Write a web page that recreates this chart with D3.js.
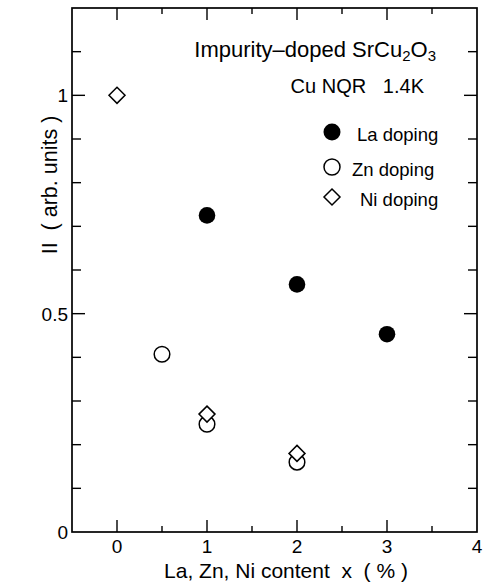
<!DOCTYPE html>
<html>
<head>
<meta charset="utf-8">
<script src="https://cdn.jsdelivr.net/npm/d3@7"></script>
<style>
  body { margin: 0; background: #fff; }
  text { font-family: "Liberation Sans", Arial, sans-serif; fill: #000; }
</style>
</head>
<body>
<div id="viz"></div>
<script>
const width = 484;
const height = 585;
const margin = {top: 8, right: 7, bottom: 53, left: 72};

// data
const laX = [1, 2, 3];
const laY = [0.725, 0.567, 0.453];
const znX = [0.5, 1, 2];
const znY = [0.407, 0.247, 0.160];
const niX = [0, 1, 2];
const niY = [1.0, 0.27, 0.18];

const xMajor = [0, 1, 2, 3, 4];
const xMinor = [-0.5, 0.5, 1.5, 2.5, 3.5];
const yMajor = [0, 0.5, 1];
const yMinor = [0.1, 0.2, 0.3, 0.4, 0.6, 0.7, 0.8, 0.9, 1.1];

const svg = d3.select('#viz')
  .append('svg')
    .attr('width', width)
    .attr('height', height);

const x = d3.scaleLinear()
  .domain([-0.5, 4])
  .range([margin.left, width - margin.right]);

const y = d3.scaleLinear()
  .domain([0, 1.2])
  .range([height - margin.bottom, margin.top]);

const x0 = x.range()[0], x1 = x.range()[1];
const y0 = y.range()[0], y1 = y.range()[1];

// frame
svg.append('rect')
  .attr('x', x0).attr('y', y1)
  .attr('width', x1 - x0).attr('height', y0 - y1)
  .attr('fill', 'none')
  .attr('stroke', '#000')
  .attr('stroke-width', 1.7);

// ticks, all pointing inward
const ticks = svg.append('g').attr('stroke', '#000').attr('stroke-width', 1.4);
xMajor.concat(xMinor).forEach(v => {
  if (v <= -0.5 || v >= 4) return;
  const len = xMajor.includes(v) ? 12 : 6;
  ticks.append('line').attr('x1', x(v)).attr('x2', x(v)).attr('y1', y0).attr('y2', y0 - len);
  ticks.append('line').attr('x1', x(v)).attr('x2', x(v)).attr('y1', y1).attr('y2', y1 + len);
});
yMajor.concat(yMinor).forEach(v => {
  if (v <= 0) return;
  const len = yMajor.includes(v) ? 13 : 9;
  ticks.append('line').attr('x1', x0).attr('x2', x0 + len).attr('y1', y(v)).attr('y2', y(v));
  ticks.append('line').attr('x1', x1).attr('x2', x1 - len).attr('y1', y(v)).attr('y2', y(v));
});

// tick labels
svg.append('g').selectAll('text').data(xMajor).join('text')
  .attr('x', d => x(d))
  .attr('y', y0 + 21)
  .attr('text-anchor', 'middle')
  .attr('font-size', 19)
  .text(d => d);

svg.append('g').selectAll('text').data(yMajor).join('text')
  .attr('x', x0 - 4)
  .attr('y', d => y(d) + 7)
  .attr('text-anchor', 'end')
  .attr('font-size', 19)
  .text(d => d);

// axis titles
svg.append('text')
  .attr('x', 286)
  .attr('y', 578)
  .attr('text-anchor', 'middle')
  .attr('font-size', 21)
  .attr('xml:space', 'preserve')
  .text('La, Zn, Ni content  x  ( % )');

svg.append('text')
  .attr('transform', 'translate(57,185) rotate(-90)')
  .attr('text-anchor', 'middle')
  .attr('font-size', 21.5)
  .attr('xml:space', 'preserve')
  .text('II  ( arb. units )');

// markers
const diamond = (cx, cy, r) => `M${cx},${cy - r}L${cx + r},${cy}L${cx},${cy + r}L${cx - r},${cy}Z`;

svg.append('g').selectAll('circle').data(laX).join('circle')
  .attr('cx', d => x(d))
  .attr('cy', (d, i) => y(laY[i]))
  .attr('r', 8.3)
  .attr('fill', '#000');

svg.append('g').selectAll('circle').data(znX).join('circle')
  .attr('cx', d => x(d))
  .attr('cy', (d, i) => y(znY[i]))
  .attr('r', 7.8)
  .attr('fill', 'none')
  .attr('stroke', '#000')
  .attr('stroke-width', 1.5);

svg.append('g').selectAll('path').data(niX).join('path')
  .attr('d', (d, i) => diamond(x(d), y(niY[i]), 8))
  .attr('fill', '#fff')
  .attr('stroke', '#000')
  .attr('stroke-width', 1.5);

// annotations
const title = svg.append('text')
  .attr('x', 436)
  .attr('y', 57)
  .attr('text-anchor', 'end')
  .attr('font-size', 22);
title.append('tspan').text('Impurity\u2013doped SrCu');
title.append('tspan').attr('font-size', 15).attr('dy', 4).text('2');
title.append('tspan').attr('dy', -4).text('O');
title.append('tspan').attr('font-size', 15).attr('dy', 4).text('3');

svg.append('text')
  .attr('x', 424)
  .attr('y', 93)
  .attr('text-anchor', 'end')
  .attr('font-size', 20)
  .attr('xml:space', 'preserve')
  .text('Cu NQR   1.4K');

// legend
const legX = 332;
const legY = [132, 167, 197];
const legLabels = ['La doping', 'Zn doping', 'Ni doping'];
const legText = [357, 352, 360];

svg.append('circle').attr('cx', legX).attr('cy', legY[0]).attr('r', 8.5).attr('fill', '#000');
svg.append('circle').attr('cx', legX).attr('cy', legY[1]).attr('r', 8)
  .attr('fill', 'none').attr('stroke', '#000').attr('stroke-width', 1.5);
svg.append('path').attr('d', diamond(legX, legY[2], 8))
  .attr('fill', 'none').attr('stroke', '#000').attr('stroke-width', 1.5);

svg.append('g').selectAll('text').data(legLabels).join('text')
  .attr('x', (d, i) => legText[i])
  .attr('y', (d, i) => legY[i] + 9)
  .attr('font-size', 18.5)
  .text(d => d);
</script>
</body>
</html>
